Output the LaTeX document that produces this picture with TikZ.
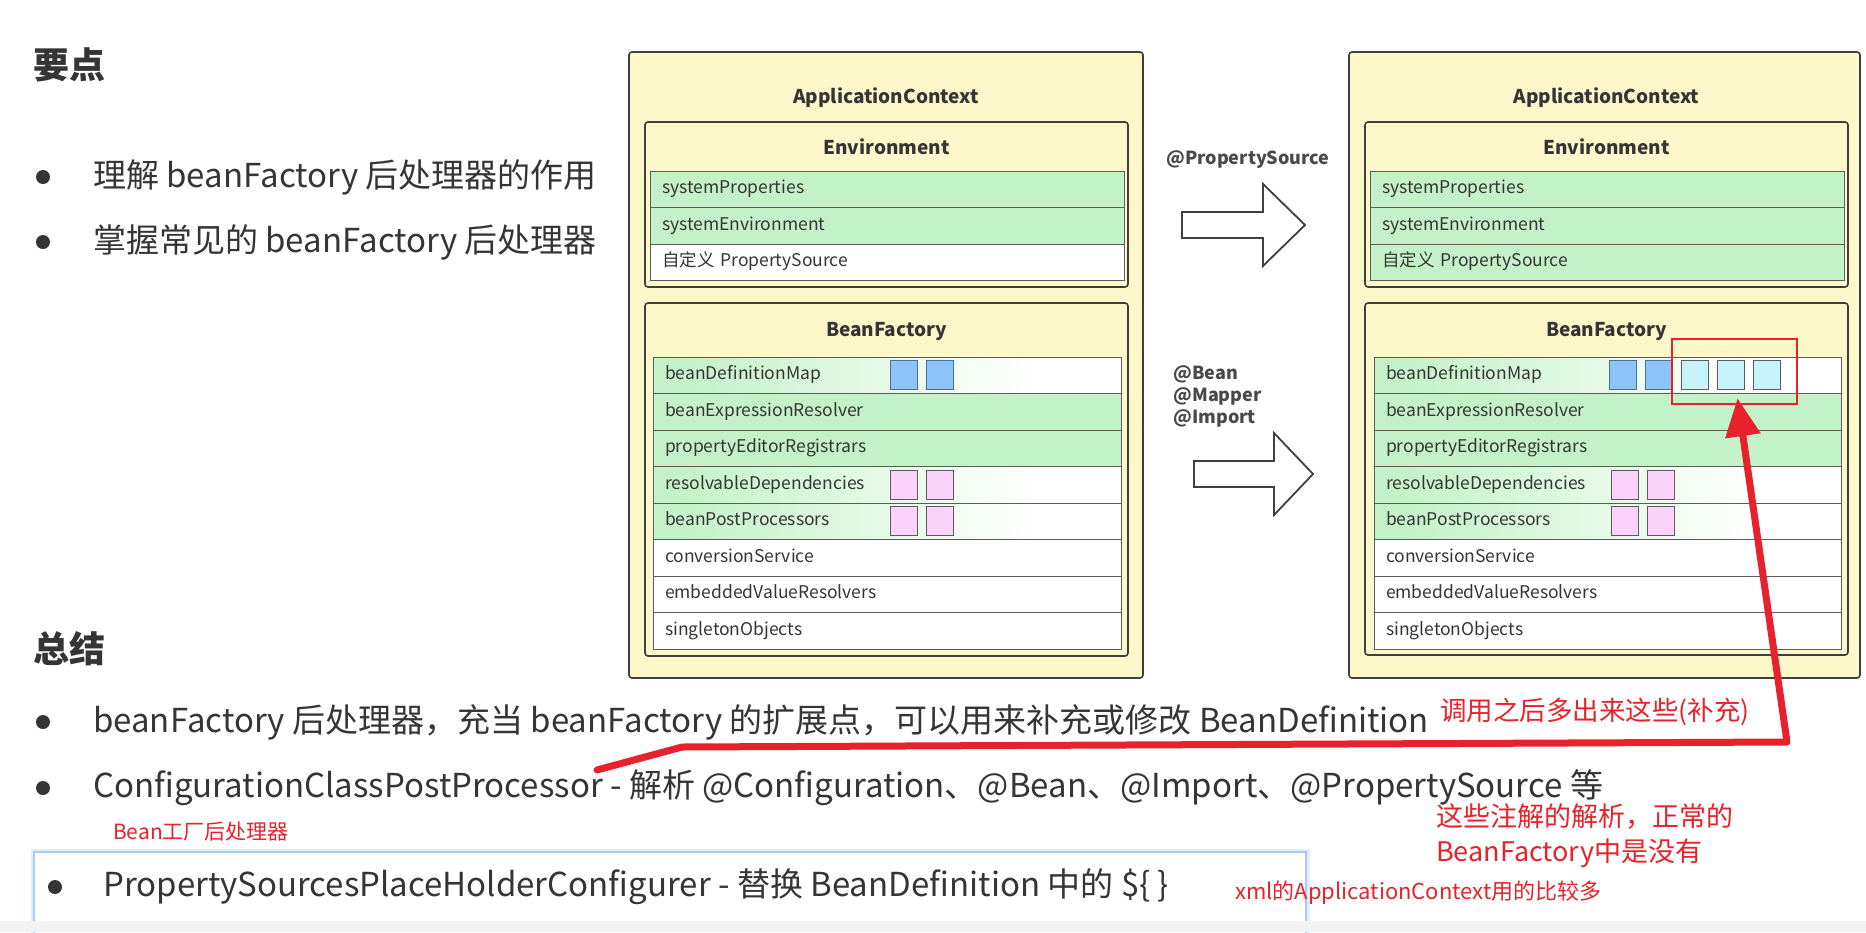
\documentclass[tikz,border=0pt]{standalone}
\usepackage{fontspec}
\setmainfont{Noto Sans CJK SC}
\usetikzlibrary{positioning,arrows.meta}

\definecolor{ctxyellow}{HTML}{FDF8C9}
\definecolor{rowgreen}{HTML}{C4F2C8}
\definecolor{boxline}{HTML}{3F3F3F}
\definecolor{rowline}{HTML}{5C5C5C}
\definecolor{beanblue}{HTML}{8CC4F8}
\definecolor{beanedge}{HTML}{4D6F93}
\definecolor{beancyan}{HTML}{C6F4FA}
\definecolor{beanpink}{HTML}{FAD2FA}
\definecolor{txtgray}{HTML}{353535}
\definecolor{notered}{HTML}{E8222C}
\definecolor{glowblue}{HTML}{A9CBF2}

\pgfdeclarehorizontalshading{greenfade}{100bp}{color(0bp)=(rowgreen); color(28bp)=(rowgreen); color(66bp)=(white); color(100bp)=(white)}

\begin{document}
\begin{tikzpicture}[x=1pt,y=-1pt,
    ctxbox/.style={draw=boxline,line width=1.6pt,fill=ctxyellow,rounded corners=3pt,anchor=north west,inner sep=0pt,outer sep=0pt},
    boxtitle/.style={font=\fontsize{19}{22}\selectfont\bfseries,text=txtgray},
    rowbase/.style={draw=rowline,line width=0.8pt,anchor=north west,minimum height=36.5pt,inner xsep=12pt,inner ysep=0pt,outer sep=0pt,text height=13pt,text depth=4pt,align=left,font=\fontsize{17.5}{20}\selectfont,text=txtgray},
    greenrow/.style={rowbase,fill=rowgreen,text width=#1},
    plainrow/.style={rowbase,fill=white,text width=#1},
    faderow/.style={rowbase,shade,shading=greenfade,text width=#1},
    beansq/.style={draw=beanedge,line width=0.9pt,minimum width=27pt,minimum height=29pt,inner sep=0pt,outer sep=0pt},
    pinksq/.style={beansq,draw=rowline,fill=beanpink},
    hollowarrow/.style={draw=boxline,line width=1.8pt,fill=white,line join=miter},
    annot/.style={font=\fontsize{18}{22}\selectfont\bfseries,text=txtgray!90,align=left},
    heading/.style={font=\fontsize{36}{40}\selectfont\bfseries,text=txtgray,anchor=west,inner sep=0pt},
    bodytext/.style={font=\fontsize{33}{38}\selectfont,text=txtgray,anchor=west,inner sep=0pt},
    dot/.style={circle,fill=txtgray,minimum size=14pt,inner sep=0pt},
    note/.style={text=notered,anchor=west,inner sep=0pt,align=left},
    notebox/.style={draw=notered,line width=2.5pt,inner sep=0pt},
    notearrow/.style={draw=notered,line width=7pt,line cap=round,line join=round,-{Triangle[length=38pt,width=34pt]}}
]
\useasboundingbox (0,0) rectangle (1866,932);
\fill[white] (0,0) rectangle (1866,932);

% left side: before
\node[ctxbox,minimum width=514pt,minimum height=626pt] (lctx) at (629,52) {};
\node[boxtitle] (lctxtitle) at (886,98) {ApplicationContext};
\node[ctxbox,minimum width=483pt,minimum height=165pt] (lenv) at (645,122) {};
\node[boxtitle] (lenvtitle) at (886.5,147) {Environment};
\node[greenrow=450pt] (le1) at (650,171) {systemProperties};
\node[greenrow=450pt] (le2) at (le1.south west) {systemEnvironment};
\node[plainrow=450pt] (le3) at (le2.south west) {自定义 PropertySource};

\node[ctxbox,minimum width=483pt,minimum height=353pt] (lbf) at (645,303) {};
\node[boxtitle] (lbftitle) at (886.5,331) {BeanFactory};
\node[faderow=444pt] (lb1) at (653,357) {beanDefinitionMap};
\node[greenrow=444pt] (lb2) at (lb1.south west) {beanExpressionResolver};
\node[greenrow=444pt] (lb3) at (lb2.south west) {propertyEditorRegistrars};
\node[faderow=444pt] (lb4) at (lb3.south west) {resolvableDependencies};
\node[faderow=444pt] (lb5) at (lb4.south west) {beanPostProcessors};
\node[plainrow=444pt] (lb6) at (lb5.south west) {conversionService};
\node[plainrow=444pt] (lb7) at (lb6.south west) {embeddedValueResolvers};
\node[plainrow=444pt] (lb8) at (lb7.south west) {singletonObjects};

\node[beansq,fill=beanblue] (lsq1) at ([xshift=250.5pt]lb1.west) {};
\node[beansq,fill=beanblue,right=9.5pt of lsq1] (lsq2) {};
\node[pinksq] (lpk1) at ([xshift=251pt]lb4.west) {};
\node[pinksq,right=9pt of lpk1] (lpk2) {};
\node[pinksq] (lpk3) at ([xshift=251pt]lb5.west) {};
\node[pinksq,right=9pt of lpk3] (lpk4) {};

% middle arrows
\node[annot] (psource) at (1248,160) {@PropertySource};
\coordinate (psarrow) at (1182,212);
\draw[hollowarrow] (psarrow) -- ++(81,0) -- ++(0,-28) -- ++(42,41) -- ++(-42,41) -- ++(0,-28) -- ++(-81,0) -- cycle;
\node[annot,anchor=west] (beanannot) at (1170,396) {@Bean\\@Mapper\\@Import};
\coordinate (bfarrow) at (1194,461);
\draw[hollowarrow] (bfarrow) -- ++(80,0) -- ++(0,-28) -- ++(39,41) -- ++(-39,41) -- ++(0,-28) -- ++(-80,0) -- cycle;

% right side: after
\node[ctxbox,minimum width=511pt,minimum height=626pt] (rctx) at (1349,52) {};
\node[boxtitle] (rctxtitle) at (1606.5,98) {ApplicationContext};
\node[ctxbox,minimum width=483pt,minimum height=165pt] (renv) at (1365,122) {};
\node[boxtitle] (renvtitle) at (1606.5,147) {Environment};
\node[greenrow=450pt] (re1) at (1370,171) {systemProperties};
\node[greenrow=450pt] (re2) at (re1.south west) {systemEnvironment};
\node[greenrow=450pt] (re3) at (re2.south west) {自定义 PropertySource};

\node[ctxbox,minimum width=483pt,minimum height=352pt] (rbf) at (1365,303) {};
\node[boxtitle] (rbftitle) at (1606.5,331) {BeanFactory};
\node[faderow=443pt] (rb1) at (1374,357) {beanDefinitionMap};
\node[greenrow=443pt] (rb2) at (rb1.south west) {beanExpressionResolver};
\node[greenrow=443pt] (rb3) at (rb2.south west) {propertyEditorRegistrars};
\node[faderow=443pt] (rb4) at (rb3.south west) {resolvableDependencies};
\node[faderow=443pt] (rb5) at (rb4.south west) {beanPostProcessors};
\node[plainrow=443pt] (rb6) at (rb5.south west) {conversionService};
\node[plainrow=443pt] (rb7) at (rb6.south west) {embeddedValueResolvers};
\node[plainrow=443pt] (rb8) at (rb7.south west) {singletonObjects};

\node[beansq,fill=beanblue] (rsq1) at ([xshift=248.5pt]rb1.west) {};
\node[beansq,fill=beanblue,right=9pt of rsq1] (rsq2) {};
\node[beansq,draw=rowline,fill=beancyan,right=9pt of rsq2] (rsq3) {};
\node[beansq,draw=rowline,fill=beancyan,right=9pt of rsq3] (rsq4) {};
\node[beansq,draw=rowline,fill=beancyan,right=9pt of rsq4] (rsq5) {};
\node[pinksq] (rpk1) at ([xshift=250.5pt]rb4.west) {};
\node[pinksq,right=9pt of rpk1] (rpk2) {};
\node[pinksq] (rpk3) at ([xshift=250.5pt]rb5.west) {};
\node[pinksq,right=9pt of rpk3] (rpk4) {};

% text on the left
\node[heading] (keypts) at (33,65) {要点};
\node[dot] (d1) at (43,177) {};
\node[bodytext] (t1) at (93,177) {理解 beanFactory 后处理器的作用};
\node[dot] (d2) at (43,242) {};
\node[bodytext] (t2) at (93,242) {掌握常见的 beanFactory 后处理器};
\node[heading] (summary) at (33,649) {总结};
\node[dot] (d3) at (43,722) {};
\node[bodytext] (t3) at (93,722) {beanFactory 后处理器，充当 beanFactory 的扩展点，可以用来补充或修改 BeanDefinition};
\node[dot] (d4) at (43,788) {};
\node[bodytext] (t4) at (93,788) {ConfigurationClassPostProcessor - 解析 @Configuration、@Bean、@Import、@PropertySource 等};
\node[note,font=\fontsize{21}{24}\selectfont] (n1) at (113,832) {Bean工厂后处理器};
\node[draw=glowblue,line width=2pt,preaction={draw=glowblue!35,line width=7pt},fill=white,anchor=north west,minimum width=1272pt,minimum height=100pt,inner sep=0pt] (pspbox) at (33,851) {};
\node[dot] (d5) at (55,887) {};
\node[bodytext] (t5) at (103,887) {PropertySourcesPlaceHolderConfigurer - 替换 BeanDefinition 中的 \$\{ \}};
\fill[black!5] (0,921) rectangle (1866,932);

% red notes
\node[notebox,minimum width=125pt,minimum height=65pt] (newdefs) at (1734.5,371.5) {};
\node[note,font=\fontsize{26.5}{30}\selectfont] (n2) at (1440,712) {调用之后多出来这些(补充)};
\node[note,font=\fontsize{27}{35}\selectfont] (n3) at (1436,836) {这些注解的解析，正常的\\BeanFactory中是没有};
\node[note,font=\fontsize{22}{26}\selectfont] (n4) at (1235,893) {xml的ApplicationContext用的比较多};
\coordinate (r0) at (597,770);
\coordinate (r1) at (682,747);
\coordinate (r2) at (1787,742);
\draw[notearrow] (r0) -- (r1) -- (r2) -- ([xshift=3pt,yshift=7pt]newdefs.south);
\end{tikzpicture}
\end{document}
